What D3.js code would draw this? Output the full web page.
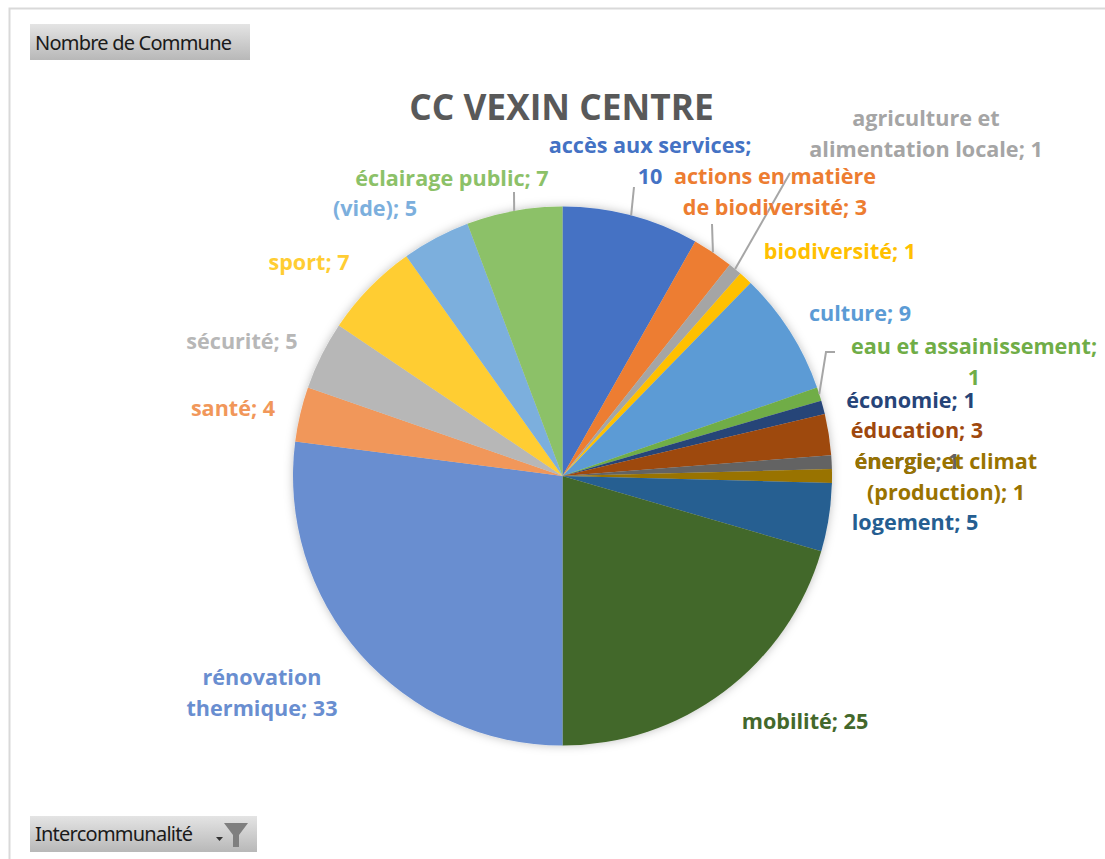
<!DOCTYPE html>
<html>
<head>
  <meta charset="utf-8">
  <title>CC Vexin Centre</title>
  <script src="https://d3js.org/d3.v7.min.js"></script>
  <style>
    html, body { margin: 0; padding: 0; background: #fff; overflow: hidden; }
    svg { display: block; }
    text { font-family: "Open Sans", "Noto Sans", sans-serif; }
  </style>
</head>
<body>
  <script>
    // Values
    const categories = ["accès aux services", "actions en matière de biodiversité", "agriculture et alimentation locale",
      "biodiversité", "culture", "eau et assainissement", "économie", "éducation", "énergie",
      "énergie et climat (production)", "logement", "mobilité", "rénovation thermique", "santé",
      "sécurité", "sport", "(vide)", "éclairage public"];
    const values = [10, 3, 1, 1, 9, 1, 1, 3, 1, 1, 5, 25, 33, 4, 5, 7, 5, 7];
    const colors = ["#4472c4", "#ed7d31", "#a5a5a5", "#ffc000", "#5b9bd5", "#70ad47", "#264478", "#9e480e", "#636363",
      "#997300", "#255e91", "#43682b", "#698ed0", "#f1975a", "#b7b7b7", "#ffcd33", "#7cafdd", "#8cc168"];
    // Label lines, wrapped as in the chart, and label anchor (centre x, first baseline y)
    const labelLines = [["accès aux services;", "10"], ["actions en matière", "de biodiversité; 3"],
      ["agriculture et", "alimentation locale; 1"], ["biodiversité; 1"], ["culture; 9"],
      ["eau et assainissement;", "1"], ["économie; 1"], ["éducation; 3"], ["énergie; 1"],
      ["énergie et climat", "(production); 1"], ["logement; 5"], ["mobilité; 25"], ["rénovation", "thermique; 33"],
      ["santé; 4"], ["sécurité; 5"], ["sport; 7"], ["(vide); 5"], ["éclairage public; 7"]];
    const labelX = [650, 775, 926, 840, 860, 974, 911, 917, 907, 946, 915, 805, 262, 233, 242, 309, 375, 452];
    const labelY = [153, 184, 126, 259, 321, 354, 408, 438, 469, 469, 530, 729, 685, 416, 349, 270, 216, 186];
    // Leader lines only exist for some slices: index and elbow point
    const leaderIdx = [0, 1, 2, 5, 17];
    const leaderX = [634, 712, 790, 826, 514];
    const leaderY = [187, 224, 173, 352, 192];

    const W = 1105, H = 859;
    const cx = 562.5, cy = 476, R = 269.5;

    const svg = d3.select("body").append("svg").attr("width", W).attr("height", H);

    // Chart frame, cut by the top of the picture and the right
    svg.append("path")
       .attr("d", "M9.5 859V8.5H1105")
       .attr("fill", "none")
       .attr("stroke", "#d9d9d9")
       .attr("stroke-width", 2);

    // Field buttons
    const grad = svg.append("defs").append("linearGradient")
       .attr("id", "btn").attr("x1", 0).attr("x2", 0).attr("y1", 0).attr("y2", 1);
    grad.append("stop").attr("offset", "0").attr("stop-color", "#e4e4e4");
    grad.append("stop").attr("offset", "1").attr("stop-color", "#b8b8b8");

    const shadow = svg.select("defs").append("filter").attr("id", "pieShadow")
       .attr("x", "-10%").attr("y", "-10%").attr("width", "120%").attr("height", "120%");
    shadow.append("feDropShadow").attr("dx", 0).attr("dy", 0).attr("stdDeviation", 5)
       .attr("flood-color", "#000").attr("flood-opacity", 0.25);

    svg.append("rect").attr("x", 30).attr("y", 24).attr("width", 220).attr("height", 36).attr("fill", "url(#btn)");
    svg.append("text").attr("x", 35).attr("y", 50).attr("font-size", 20).attr("fill", "#1a1a1a")
       .style("font-family", "'Noto Sans', sans-serif").attr("textLength", 197).text("Nombre de Commune");

    svg.append("rect").attr("x", 30).attr("y", 816).attr("width", 227).attr("height", 36).attr("fill", "url(#btn)");
    svg.append("text").attr("x", 35).attr("y", 841).attr("font-size", 20).attr("fill", "#1a1a1a")
       .style("font-family", "'Noto Sans', sans-serif").attr("textLength", 158).text("Intercommunalité");
    // Dropdown tick and funnel icon
    svg.append("path").attr("d", "M216 837h7l-3.5 4z").attr("fill", "#333");
    svg.append("path").attr("d", "M224 823h24l-9 12v12h-6v-12z").attr("fill", "#7f7f7f");

    // Title
    svg.append("text").attr("x", 561.5).attr("y", 120).attr("text-anchor", "middle")
       .attr("font-size", 35.3).attr("font-weight", 700).attr("fill", "#595959").text("CC VEXIN CENTRE");

    // Pie
    const pie = d3.pie().sort(null).value(function(d) { return d; });
    const arc = d3.arc().innerRadius(0).outerRadius(R);
    const arcs = pie(values);

    svg.append("g")
       .attr("transform", "translate(" + cx + "," + cy + ")")
       .attr("filter", "url(#pieShadow)")
       .selectAll("path")
       .data(arcs)
       .enter()
       .append("path")
       .attr("d", arc)
       .attr("fill", function(d, i) { return colors[i]; });

    // Leader lines from the slice edge to the label
    leaderIdx.forEach(function(idx, i) {
      const p = d3.pointRadial((arcs[idx].startAngle + arcs[idx].endAngle) / 2, R);
      const pts = [[cx + p[0], cy + p[1]], [leaderX[i], leaderY[i]]];
      if (idx === 5) pts.push([leaderX[i] + 9, leaderY[i]]);
      svg.append("path")
         .attr("d", d3.line()(pts))
         .attr("fill", "none")
         .attr("stroke", "#a6a6a6")
         .attr("stroke-width", 2);
    });

    // Data labels
    labelLines.forEach(function(lines, i) {
      const t = svg.append("text")
         .attr("text-anchor", "middle")
         .attr("font-size", 21.6)
         .attr("font-weight", 700)
         .attr("fill", colors[i]);
      lines.forEach(function(line, k) {
        t.append("tspan").attr("x", labelX[i]).attr("y", labelY[i] + k * 31).text(line);
      });
    });
  </script>
</body>
</html>
